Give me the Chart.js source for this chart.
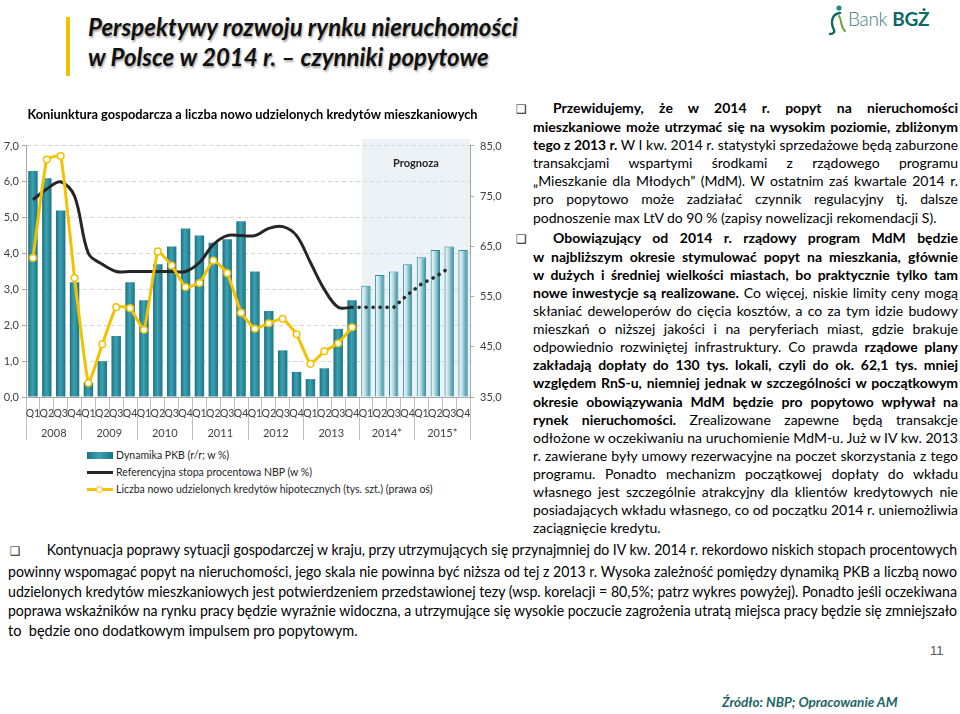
<!DOCTYPE html>
<html lang="pl">
<head>
<meta charset="utf-8">
<title>Perspektywy rozwoju rynku nieruchomości w Polsce w 2014 r.</title>
<script src="https://cdn.jsdelivr.net/npm/chart.js@4.4.1/dist/chart.umd.min.js"></script>
<style>
html, body { margin: 0; padding: 0; background: #fff; }
body { width: 960px; height: 714px; position: relative; overflow: hidden; font-family: Lato, "Open Sans", sans-serif; color: #000; }
.accent { position: absolute; left: 66px; top: 17px; width: 4px; height: 59px; background: #f2c200; }
.head { position: absolute; left: 88px; top: 12px; font: italic 700 24px/30px Lato, sans-serif; color: #111; text-shadow: 1px 2px 2px rgba(0,0,0,.35); white-space: nowrap; }
.logo { position: absolute; left: 826px; top: 2px; height: 34px; }
.logo svg { position: absolute; left: 0; top: 2px; }
.logo .bank { position: absolute; left: 22px; top: 5px; font: 300 19px/24px Lato, sans-serif; color: #3f7b7e; white-space: nowrap; letter-spacing: -0.3px; }
.logo .bank b { font-weight: 700; color: #0e6767; }
#chartBox { position: absolute; left: 0; top: 100px; width: 505px; height: 342px; }
.legend { position: absolute; left: 87px; top: 447px; font: 10.5px/17px Lato, sans-serif; color: #262626; }
.legend .item { position: relative; height: 17px; padding-left: 29px; white-space: nowrap; }
.legend .sw { position: absolute; left: 0; width: 26px; }
.legend .dot { position: absolute; left: 9px; top: 5px; width: 5px; height: 5px; border-radius: 50%; background: #fff; border: 1.5px solid #f2c200; }
.txt { position: absolute; font-family: Lato, sans-serif; color: #000; }
.ln { display: block; text-align: justify; text-align-last: justify; transform-origin: 0 0; }
.ln.last { text-align-last: left; }
.chk { display: inline-block; font-family: "DejaVu Sans", sans-serif; font-size: 12px; color: #222; }
#rightText { left: 516px; top: 99px; width: 442px; font-size: 14px; line-height: 18.1px; }
#rightText .ln { margin-left: 17px; width: 425px; }
#rightText .ln.first { margin-left: 0; width: 442px; }
#rightText .chk { width: 37px; }
#rightText .p2 { margin-top: 2px; }
#bottomText { left: 8px; top: 540px; width: 949px; font-size: 14.5px; line-height: 19.8px; }
#bottomText .ln { width: 949px; }
#bottomText .chk { width: 38px; margin-left: 2px; }
.page { position: absolute; left: 930px; top: 643px; font: 13px Arial, "Liberation Sans", sans-serif; color: #595959; }
.src { position: absolute; left: 722px; top: 694px; font: italic 700 13.5px Lato, sans-serif; color: #1d6565; white-space: nowrap; }
</style>
</head>
<body>
<div class="accent"></div>
<div class="head">Perspektywy rozwoju rynku nieruchomości<br>w Polsce w 2014 r. – czynniki popytowe</div>
<div class="logo">
  <svg width="22" height="32" viewBox="0 0 22 32">
    <circle cx="13" cy="4" r="2.6" fill="#1f8a7a"/>
    <path d="M14 9 C6 10 4 18 8 26 C9 28 7 30 4 30" stroke="#0e6767" stroke-width="2.4" fill="none" stroke-linecap="round"/>
    <path d="M13 12 C16 16 14 22 19 27" stroke="#6aa23f" stroke-width="2" fill="none" stroke-linecap="round"/>
  </svg>
  <div class="bank">Bank <b>BGŻ</b></div>
</div>

<div id="chartBox"><canvas id="gdpChart"></canvas></div>
<div class="legend" id="legend"></div>

<div class="txt" id="rightText">
  <div class="p1">
    <div class="ln first"><span class="t"><span class="chk">❑</span><b>Przewidujemy, że w 2014 r. popyt na nieruchomości</b></span></div>
    <div class="ln"><span class="t"><b>mieszkaniowe może utrzymać się na wysokim poziomie, zbliżonym</b></span></div>
    <div class="ln"><span class="t"><b>tego z 2013 r.</b> W I kw. 2014 r. statystyki sprzedażowe będą zaburzone</span></div>
    <div class="ln"><span class="t">transakcjami wspartymi środkami z rządowego programu</span></div>
    <div class="ln"><span class="t">„Mieszkanie dla Młodych” (MdM). W ostatnim zaś kwartale 2014 r.</span></div>
    <div class="ln"><span class="t">pro popytowo może zadziałać czynnik regulacyjny tj. dalsze</span></div>
    <div class="ln last"><span class="t">podnoszenie max LtV do 90 % (zapisy nowelizacji rekomendacji S).</span></div>
  </div>
  <div class="p2">
    <div class="ln first"><span class="t"><span class="chk">❑</span><b>Obowiązujący od 2014 r. rządowy program MdM będzie</b></span></div>
    <div class="ln"><span class="t"><b>w najbliższym okresie stymulować popyt na mieszkania, głównie</b></span></div>
    <div class="ln"><span class="t"><b>w dużych i średniej wielkości miastach, bo praktycznie tylko tam</b></span></div>
    <div class="ln"><span class="t"><b>nowe inwestycje są realizowane.</b> Co więcej, niskie limity ceny mogą</span></div>
    <div class="ln"><span class="t">skłaniać deweloperów do cięcia kosztów, a co za tym idzie budowy</span></div>
    <div class="ln"><span class="t">mieszkań o niższej jakości i na peryferiach miast, gdzie brakuje</span></div>
    <div class="ln"><span class="t">odpowiednio rozwiniętej infrastruktury. Co prawda <b>rządowe plany</b></span></div>
    <div class="ln"><span class="t"><b>zakładają dopłaty do 130 tys. lokali, czyli do ok. 62,1 tys. mniej</b></span></div>
    <div class="ln"><span class="t"><b>względem RnS-u, niemniej jednak w szczególności w początkowym</b></span></div>
    <div class="ln"><span class="t"><b>okresie obowiązywania MdM będzie pro popytowo wpływał na</b></span></div>
    <div class="ln"><span class="t"><b>rynek nieruchomości.</b> Zrealizowane zapewne będą transakcje</span></div>
    <div class="ln"><span class="t">odłożone w oczekiwaniu na uruchomienie MdM-u. Już w IV kw. 2013</span></div>
    <div class="ln"><span class="t">r. zawierane były umowy rezerwacyjne na poczet skorzystania z tego</span></div>
    <div class="ln"><span class="t">programu. Ponadto mechanizm początkowej dopłaty do wkładu</span></div>
    <div class="ln"><span class="t">własnego jest szczególnie atrakcyjny dla klientów kredytowych nie</span></div>
    <div class="ln"><span class="t">posiadających wkładu własnego, co od początku 2014 r. uniemożliwia</span></div>
    <div class="ln last"><span class="t">zaciągnięcie kredytu.</span></div>
  </div>
</div>

<div class="txt" id="bottomText">
  <div class="ln"><span class="t"><span class="chk">❑</span>Kontynuacja poprawy sytuacji gospodarczej w kraju, przy utrzymujących się przynajmniej do IV kw. 2014 r. rekordowo niskich stopach procentowych</span></div>
  <div class="ln"><span class="t">powinny wspomagać popyt na nieruchomości, jego skala nie powinna być niższa od tej z 2013 r. Wysoka zależność pomiędzy dynamiką PKB a liczbą nowo</span></div>
  <div class="ln"><span class="t">udzielonych kredytów mieszkaniowych jest potwierdzeniem przedstawionej tezy (wsp. korelacji = 80,5%; patrz wykres powyżej). Ponadto jeśli oczekiwana</span></div>
  <div class="ln"><span class="t">poprawa wskaźników na rynku pracy będzie wyraźnie widoczna, a utrzymujące się wysokie poczucie zagrożenia utratą miejsca pracy będzie się zmniejszało</span></div>
  <div class="ln last"><span class="t">to&nbsp; będzie ono dodatkowym impulsem pro popytowym.</span></div>
</div>

<div class="page">11</div>
<div class="src">Źródło: NBP; Opracowanie AM</div>

<script>
/* ==============================
   DATA
============================== */
var years = ["2008", "2009", "2010", "2011", "2012", "2013", "2014*", "2015*"];
var quarterNames = ["Q1", "Q2", "Q3", "Q4"];
// PKB r/r (w %), 2008Q1 - 2015Q4 (od 2014Q1 prognoza)
var gdpGrowth = [6.3, 6.1, 5.2, 3.2, 0.4, 1.0, 1.7, 3.2, 2.7, 3.7, 4.2, 4.7, 4.5, 4.3, 4.4, 4.9,
                 3.5, 2.4, 1.3, 0.7, 0.5, 0.8, 1.9, 2.7, 3.1, 3.4, 3.5, 3.7, 3.9, 4.1, 4.2, 4.1];
// stopa referencyjna NBP (w %)
var refRate = [5.5, 5.8, 6.0, 5.6, 4.0, 3.7, 3.5, 3.5, 3.5, 3.5, 3.5, 3.5, 3.75, 4.25, 4.5, 4.5,
               4.5, 4.7, 4.75, 4.5, 3.75, 3.0, 2.5, 2.5];
// prognoza stopy (linia kropkowana), od 2013Q4
var refRateForecast = [2.5, 2.5, 2.5, 2.5, 2.85, 3.15, 3.35, 3.6];
// nowo udzielone kredyty hipoteczne (tys. szt.)
var mortgages = [62.7, 82.3, 83.0, 58.7, 37.8, 45.5, 52.9, 52.7, 48.4, 64.0, 61.2, 56.9, 57.7, 62.2, 59.7, 51.8,
                 48.6, 49.7, 50.6, 47.5, 41.6, 44.1, 45.7, 48.9];
var forecastFrom = 24; // 2014 Q1
var leftTicks = { min: 0, max: 7, step: 1 };
var rightTicks = { min: 35, max: 85, step: 10 };

var teal = "#2b8d9e";
var gold = "#f2c200";

/* ==============================
   HELPERS
============================== */
var quarterLabels = [];
years.forEach(function (y) {
    quarterNames.forEach(function (q) { quarterLabels.push(q); });
});

function padTo(arr, offset) {
    var out = [];
    for (var i = 0; i < quarterLabels.length; i++) {
        var k = i - offset;
        out.push(k >= 0 && k < arr.length ? arr[k] : null);
    }
    return out;
}

function plNum(v) {
    return Number(v).toFixed(1).replace(".", ",");
}

function barFill(context) {
    var chart = context.chart;
    var sx = chart.scales.x;
    if (!chart.chartArea || !sx || context.type !== "data") return teal;
    var cx = sx.getPixelForValue(context.dataIndex);
    var half = sx.width / quarterLabels.length * 0.68 / 2;
    var g = chart.ctx.createLinearGradient(cx - half, 0, cx + half, 0);
    if (context.dataIndex >= forecastFrom) {
        g.addColorStop(0, "#3a98a8");
        g.addColorStop(0.15, "#e3f2f5");
        g.addColorStop(0.4, "#bfe0e6");
        g.addColorStop(1, "#24879a");
    } else {
        g.addColorStop(0, "#1c7181");
        g.addColorStop(0.45, "#3ba3b3");
        g.addColorStop(1, "#1d7383");
    }
    return g;
}

var forecastShade = {
    id: "forecastShade",
    beforeDraw: function (chart) {
        var sx = chart.scales.x;
        var area = chart.chartArea;
        var ctx = chart.ctx;
        var start = (sx.getPixelForValue(forecastFrom - 1) + sx.getPixelForValue(forecastFrom)) / 2 + 3;
        ctx.save();
        ctx.fillStyle = "#edf2f7";
        ctx.fillRect(start, area.top - 7, area.right - start, area.bottom - area.top + 7);
        ctx.fillStyle = "#262626";
        ctx.font = "bold 11px Lato";
        ctx.textAlign = "center";
        ctx.textBaseline = "middle";
        ctx.fillText("Prognoza", (start + area.right) / 2, area.top + 17);
        ctx.restore();
    }
};

/* ==============================
   CHART
============================== */
var tickFont = { family: "Lato", size: 11 };
var axisGray = "#a6a6a6";

var chart = new Chart(document.getElementById("gdpChart"), {
    type: "bar",
    data: {
        labels: quarterLabels,
        datasets: [
            {
                type: "line",
                label: "Liczba nowo udzielonych kredytów hipotecznych (tys. szt.) (prawa oś)",
                data: padTo(mortgages, 0),
                yAxisID: "y1",
                borderColor: gold,
                borderWidth: 3,
                tension: 0.12,
                pointRadius: 3.3,
                pointBorderWidth: 1.5,
                pointBackgroundColor: "#fff",
                pointBorderColor: gold,
                spanGaps: false,
                order: 1
            },
            {
                type: "line",
                label: "Referencyjna stopa procentowa NBP (w %)",
                data: padTo(refRate, 0),
                yAxisID: "y",
                borderColor: "#262626",
                borderWidth: 3,
                tension: 0.35,
                pointRadius: 0,
                order: 2
            },
            {
                type: "line",
                label: "prognoza stopy",
                data: padTo(refRateForecast, forecastFrom - 1),
                yAxisID: "y",
                borderColor: "#262626",
                borderWidth: 3.6,
                borderDash: [0.1, 6.9],
                borderCapStyle: "round",
                tension: 0,
                pointRadius: 0,
                order: 2
            },
            {
                label: "Dynamika PKB (r/r; w %)",
                data: gdpGrowth,
                yAxisID: "y",
                xAxisID: "x",
                backgroundColor: barFill,
                borderColor: teal,
                borderWidth: function (c) { return c.dataIndex >= forecastFrom ? 1 : 0; },
                categoryPercentage: 1,
                barPercentage: 0.68,
                order: 3
            }
        ]
    },
    options: {
        responsive: true,
        maintainAspectRatio: false,
        animation: false,
        layout: { padding: 0 },
        plugins: {
            legend: { display: false },
            tooltip: { enabled: false },
            title: {
                display: true,
                text: "Koniunktura gospodarcza a liczba nowo udzielonych kredytów mieszkaniowych",
                color: "#000",
                font: { family: "Lato", size: 12.8, weight: "bold" },
                padding: { top: 7.5, bottom: 23.1 }
            }
        },
        scales: {
            x: {
                type: "category",
                position: "bottom",
                offset: true,
                grid: { offset: true, drawOnChartArea: false, tickLength: 21, color: "#bfbfbf" },
                border: { display: true, color: axisGray },
                ticks: { autoSkip: false, maxRotation: 0, minRotation: 0, padding: -11, color: "#404040", font: { family: "Lato", size: 10.5 } },
                afterFit: function (s) { s.height = 21; }
            },
            x2: {
                type: "category",
                position: "bottom",
                labels: years,
                offset: true,
                grid: { offset: true, drawOnChartArea: false, tickLength: 22, color: "#bfbfbf" },
                border: { display: false },
                ticks: { autoSkip: false, maxRotation: 0, padding: -13.3, color: "#404040", font: tickFont },
                afterFit: function (s) { s.height = 24; }
            },
            y: {
                position: "left",
                min: leftTicks.min,
                max: leftTicks.max,
                ticks: { stepSize: leftTicks.step, padding: 3, color: "#404040", font: tickFont, callback: plNum },
                grid: { color: "#d6d6d6", tickColor: axisGray, tickLength: 4 },
                border: { display: true, color: axisGray, dash: [4, 3] },
                afterFit: function (s) { s.width = 26; }
            },
            y1: {
                position: "right",
                min: rightTicks.min,
                max: rightTicks.max,
                ticks: { stepSize: rightTicks.step, padding: 6, color: "#404040", font: tickFont, callback: plNum },
                grid: { drawOnChartArea: false, tickColor: axisGray, tickLength: 4 },
                border: { display: true, color: axisGray },
                afterFit: function (s) { s.width = 35; }
            }
        }
    },
    plugins: [forecastShade]
});

/* ==============================
   LEGEND (HTML)
============================== */
function buildLegend() {
    var box = document.getElementById("legend");
    var ds = chart.data.datasets;
    var rows = [
        { label: ds[3].label, sw: '<div class="sw" style="top:5px;height:7px;background:linear-gradient(90deg,#1c7181,#3ba3b3 45%,#1d7383)"></div>' },
        { label: ds[1].label, sw: '<div class="sw" style="top:7px;height:3px;background:#262626"></div>' },
        { label: ds[0].label, sw: '<div class="sw" style="top:7px;height:3px;background:' + gold + '"></div><div class="dot"></div>' }
    ];
    box.innerHTML = rows.map(function (r) {
        return '<div class="item">' + r.sw + '<span>' + r.label + '</span></div>';
    }).join("");
}
buildLegend();

/* ==============================
   TEXT LINES: fit to width
============================== */
function fitLines() {
    var lines = document.querySelectorAll(".ln");
    lines.forEach(function (ln) {
        var span = ln.querySelector(".t");
        var target = ln.clientWidth;
        ln.style.whiteSpace = "nowrap";
        ln.style.textAlignLast = "left";
        var natural = span.getBoundingClientRect().width;
        ln.style.whiteSpace = "";
        ln.style.textAlignLast = "";
        if (natural > target) {
            ln.style.width = (natural + 1) + "px";
            ln.style.transform = "scaleX(" + (target / (natural + 1)) + ")";
        }
    });
}
if (document.fonts && document.fonts.ready) {
    document.fonts.ready.then(fitLines);
} else {
    fitLines();
}
</script>
</body>
</html>
